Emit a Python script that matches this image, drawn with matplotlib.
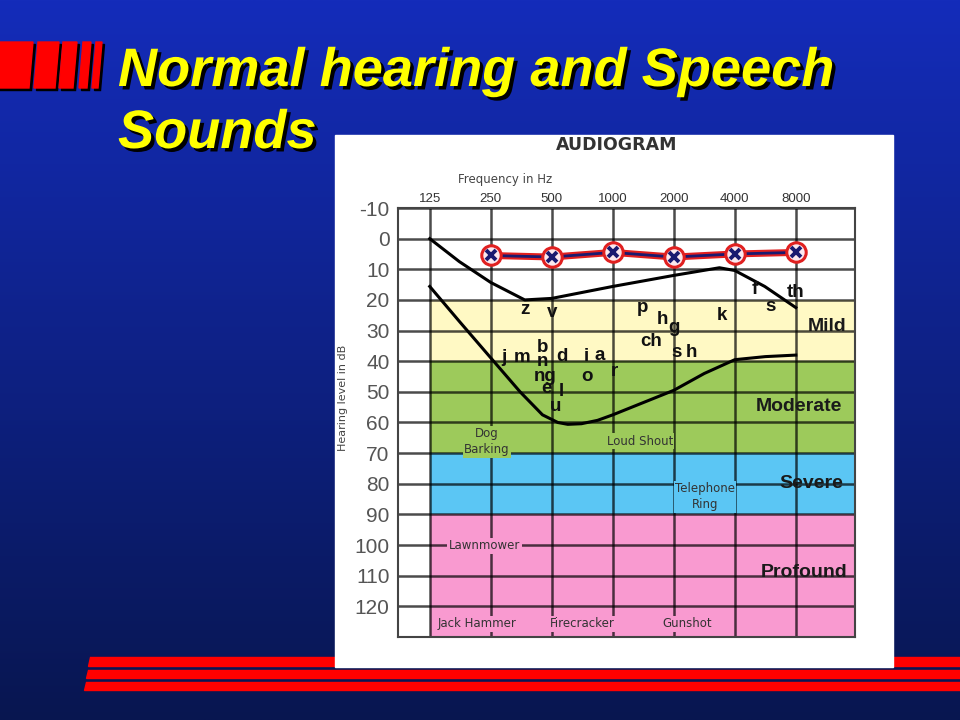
import numpy as np
import matplotlib
matplotlib.use("Agg")
import matplotlib.pyplot as plt
from matplotlib.patches import Polygon, Rectangle
import matplotlib.patheffects as pe

# -----------------------------
# Data
# -----------------------------
freqs = [125, 250, 500, 1000, 2000, 4000, 8000]
freq_labels = ["125", "250", "500", "1000", "2000", "4000", "8000"]
db_ticks = list(range(-10, 121, 10))

# normal hearing thresholds (dB) at 250 ... 8000 Hz
hearing_freqs = [250, 500, 1000, 2000, 4000, 8000]
hearing_db = [5.5, 6, 4.5, 6, 5, 4.5]

# speech banana outline
upper_freqs = [125, 175, 250, 368, 500, 1000, 2000, 3360, 4000, 5620, 8000]
upper_db = [0, 7.5, 14.3, 20, 19.5, 15.6, 12, 9.5, 10.4, 15.6, 22.5]
lower_freqs = [125, 175, 247, 349, 450, 536, 600, 700, 841, 1000, 1414, 2000, 2828, 4000, 5657, 8000]
lower_db = [15.6, 27, 38.5, 50, 57.5, 60, 60.6, 60.4, 59.3, 57.5, 53.5, 49.5, 44, 39.5, 38.5, 38]

# speech sounds
sounds = ["z", "v", "p", "h", "g", "ch", "s", "h", "k", "f", "s", "th",
          "j", "m", "b", "n", "d", "ng", "e", "l", "u", "i", "a", "o", "r"]
sound_freqs = [370, 500, 1400, 1750, 2000, 1550, 2070, 2450, 3450, 5000, 6000, 8000,
               290, 355, 450, 450, 560, 465, 470, 560, 520, 740, 860, 750, 1020]
sound_db = [23, 24, 22.5, 26.5, 29, 33.5, 37, 37, 25, 16.5, 22, 17.5,
            38.8, 38.8, 35.5, 40, 38.4, 45, 49, 50, 54.7, 38.4, 38, 45, 43.4]

# hearing loss bands
band_names = ["Mild", "Moderate", "Severe", "Profound"]
band_low = [20, 40, 70, 90]
band_high = [40, 70, 90, 130]
band_colors = ["#fff9c4", "#9dca5b", "#5bc6f4", "#f99ad0"]
band_label_freqs = [11470, 8280, 9510, 8760]
band_label_db = [28.7, 54.7, 79.8, 108.8]

# everyday noises
noises = ["Dog\nBarking", "Loud Shout", "Telephone\nRing", "Lawnmower",
          "Jack Hammer", "Firecracker", "Gunshot"]
noise_freqs = [240, 1360, 2850, 233, 213, 711, 2316]
noise_db = [66.3, 66.1, 84.2, 100.3, 125.7, 125.7, 125.7]
noise_band = [1, 1, 2, 3, 3, 3, 3]

# -----------------------------
# Slide background
# -----------------------------
fig = plt.figure(figsize=(9.6, 7.2), dpi=100)
bg = fig.add_axes([0, 0, 1, 1])
bg.set_xlim(0, 960)
bg.set_ylim(720, 0)
bg.axis("off")

top = np.array([20, 44, 186]) / 255
bottom = np.array([8, 22, 80]) / 255
t = np.linspace(0, 1, 256)[:, None]
grad = top[None, None, :] * (1 - t[..., None]) + bottom[None, None, :] * t[..., None]
grad = np.repeat(grad, 2, axis=1)
bg.imshow(grad, extent=(0, 960, 720, 0), aspect="auto", zorder=0)

# red logo bars with shadow
bars = [(-5, 29), (34, 55), (59, 73), (79, 87), (92, 98)]
for x0, x1 in bars:
    for dx, col in [(2.5, "black"), (0, "#ff0000")]:
        pts = [(x0 + dx, 88 + dx), (x1 + dx, 88 + dx), (x1 + 4 + dx, 42 + dx), (x0 + 4 + dx, 42 + dx)]
        bg.add_patch(Polygon(pts, closed=True, color=col, zorder=2))

# bottom red stripes
for y0, y1, xl in [(657, 666, 88), (670, 678, 86), (682, 690, 84)]:
    pts = [(xl, y1), (960, y1), (960, y0), (xl + 1.5, y0)]
    bg.add_patch(Polygon(pts, closed=True, color="#ff0000", zorder=2))

# white panel
bg.add_patch(Rectangle((335, 135), 558, 532, color="white", zorder=3))

# title
for line, yb in [("Normal hearing and Speech", 86), ("Sounds", 148)]:
    bg.text(118, yb, line, fontsize=39, fontweight="bold", fontstyle="italic",
            family="Liberation Sans", color="#ffff00", va="baseline", zorder=4,
            path_effects=[pe.withSimplePatchShadow(offset=(2.5, -2.5), shadow_rgbFace="black", alpha=1)])

bg.text(617, 145, "AUDIOGRAM", fontsize=12.5, fontweight="bold", family="DejaVu Sans Condensed",
        color="#333333", ha="center", va="center", zorder=4)
bg.text(505, 179, "Frequency in Hz", fontsize=8.5, family="DejaVu Sans Condensed",
        color="#444444", ha="center", va="center", zorder=4)
bg.text(343, 398, "Hearing level in dB", fontsize=8, family="DejaVu Sans Condensed",
        color="#444444", ha="center", va="center", rotation=90, zorder=4)

# -----------------------------
# Audiogram
# -----------------------------
ax = fig.add_axes([398 / 960, 1 - 637 / 720, (855 - 398) / 960, (637 - 208) / 720])
ax.set_xscale("log", base=2)
xmin = 125 * 2 ** -0.52
xmax = 125 * 2 ** 6.97
ax.set_xlim(xmin, xmax)
ax.set_ylim(130, -10)
ax.set_facecolor("white")

for lo, hi, col in zip(band_low, band_high, band_colors):
    ax.fill_between([125, xmax], lo, hi, color=col, lw=0, zorder=1)

ax.set_xticks(freqs)
ax.set_xticklabels(freq_labels)
ax.xaxis.set_minor_locator(matplotlib.ticker.NullLocator())
ax.xaxis.tick_top()
ax.set_yticks(db_ticks)
ax.set_yticklabels([str(v) for v in db_ticks])
ax.tick_params(axis="x", length=0, pad=2, labelsize=9.5, labelcolor="#333333")
ax.tick_params(axis="y", length=0, pad=6, labelsize=15, labelcolor="#555555")
for lbl in ax.get_xticklabels() + ax.get_yticklabels():
    lbl.set_family("Liberation Sans")
ax.grid(True, color="black", alpha=0.7, lw=1.8)
for s in ax.spines.values():
    s.set_color("#444444")
    s.set_linewidth(1.5)

# speech banana
ax.plot(upper_freqs, upper_db, color="black", lw=2.2, zorder=4)
ax.plot(lower_freqs, lower_db, color="black", lw=2.2, zorder=4)

# normal hearing line
ax.plot(hearing_freqs, hearing_db, color="#e02020", lw=5, zorder=5)
ax.plot(hearing_freqs, hearing_db, color="#1a1a70", lw=2, zorder=6)
ax.plot(hearing_freqs, hearing_db, "o", ms=14, mfc="#fbe8ee", mec="#e02020", mew=2.2, zorder=7)
ax.plot(hearing_freqs, hearing_db, "x", ms=7, mec="#1a1a70", mew=2.8, zorder=8)

for s, f, d in zip(sounds, sound_freqs, sound_db):
    ax.text(f, d, s, fontsize=13.5, fontweight="bold", family="Liberation Sans",
            ha="center", va="center", color="#111111", zorder=9)

for name, f, d in zip(band_names, band_label_freqs, band_label_db):
    ax.text(f, d, name, fontsize=14, fontweight="bold", family="Liberation Sans",
            ha="center", va="center", color="#1a1a1a", zorder=9)

for name, f, d, b in zip(noises, noise_freqs, noise_db, noise_band):
    ax.text(f, d, name, fontsize=8.5, family="DejaVu Sans Condensed", ha="center", va="center",
            color="#333333", linespacing=1.3, zorder=9,
            bbox=dict(facecolor=band_colors[b], edgecolor="none", pad=1))

fig.savefig("out.png", dpi=100)
